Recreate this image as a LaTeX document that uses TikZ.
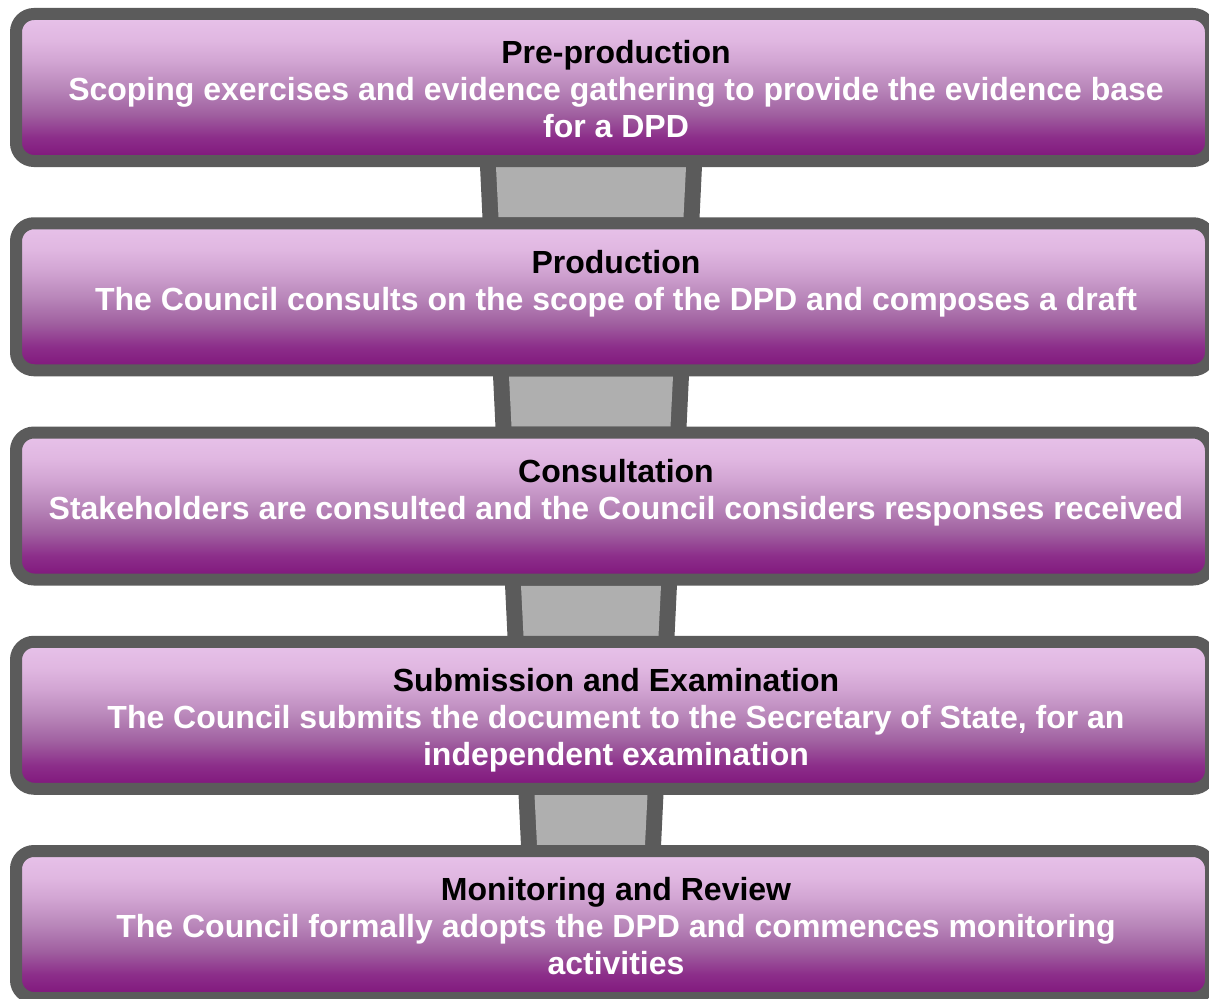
\documentclass[tikz,border=0pt]{standalone}
\usepackage{fontspec}
\setmainfont{Liberation Sans}
\usetikzlibrary{calc}
\definecolor{frame}{HTML}{5B5B5B}
\definecolor{connfill}{HTML}{AFAFAF}
\definecolor{pA}{HTML}{E6C0E8}
\definecolor{pB}{HTML}{E0B7E1}
\definecolor{pC}{HTML}{D2A5D3}
\definecolor{pD}{HTML}{B987BA}
\definecolor{pE}{HTML}{A060A0}
\definecolor{pF}{HTML}{8C2E8A}
\definecolor{pG}{HTML}{821A7E}
\pgfdeclareverticalshading{purpgrad}{100bp}{color(0bp)=(pG); color(27bp)=(pG); color(33bp)=(pF); color(41bp)=(pE); color(50bp)=(pD); color(59bp)=(pC); color(66bp)=(pB); color(73bp)=(pA); color(100bp)=(pA)}
\tikzset{
  stagegeom/.style={line width=12pt, rounded corners=18pt,
    minimum width=1195pt, minimum height=147pt, inner sep=0pt},
  stagebox/.style={stagegeom, draw=frame, shading=purpgrad},
  stagetext/.style={anchor=north, align=center, inner sep=0pt, text=white,
    font=\fontsize{32}{37}\selectfont\bfseries},
}
\newcommand{\stagetitle}[1]{\textcolor{black}{#1}}
\newcommand{\connector}[3]{%
  \fill[frame] ($(#1.south -| cx)+(-#3,-1)$) -- ($(#1.south -| cx)+(#3,-1)$)
     -- ($(#2.north -| cx)+(#3-2.5,1)$) -- ($(#2.north -| cx)+(-#3+2.5,1)$) -- cycle;
  \fill[connfill] ($(#1.south -| cx)+(-#3+16,0)$) -- ($(#1.south -| cx)+(#3-16,0)$)
     -- ($(#2.north -| cx)+(#3-18.5,0)$) -- ($(#2.north -| cx)+(-#3+18.5,0)$) -- cycle;
}
\begin{document}
\begin{tikzpicture}[x=1pt,y=-1pt]
\useasboundingbox (0,0) rectangle (1209,998);
\clip (0,0) rectangle (1209,998);
\coordinate (cx) at (591,0);
% box frames (placed first to define anchors, drawn later on top)
\path (613.5,87.5) node[stagegeom] (b1) {};
\path (613.5,296.75) node[stagegeom] (b2) {};
\path (613.5,506) node[stagegeom] (b3) {};
\path (613.5,715.25) node[stagegeom] (b4) {};
\path (613.5,924.5) node[stagegeom] (b5) {};
% connectors
\connector{b1}{b2}{111}
\connector{b2}{b3}{98}
\connector{b3}{b4}{86}
\connector{b4}{b5}{72.5}
% boxes
\node[stagebox] (s1) at (b1) {};
\node[stagebox] (s2) at (b2) {};
\node[stagebox] (s3) at (b3) {};
\node[stagebox] (s4) at (b4) {};
\node[stagebox] (s5) at (b5) {};
% texts
\node[stagetext] (t1) at (616,40.5) {\stagetitle{Pre-production}\\Scoping exercises and evidence gathering to provide the evidence base\\for a DPD};
\node[stagetext] (t2) at (616,249.75) {\stagetitle{Production}\\The Council consults on the scope of the DPD and composes a draft};
\node[stagetext] (t3) at (616,459) {\stagetitle{Consultation}\\Stakeholders are consulted and the Council considers responses received};
\node[stagetext] (t4) at (616,668.25) {\stagetitle{Submission and Examination}\\The Council submits the document to the Secretary of State, for an\\independent examination};
\node[stagetext] (t5) at (616,877.5) {\stagetitle{Monitoring and Review}\\The Council formally adopts the DPD and commences monitoring\\activities};
\end{tikzpicture}
\end{document}
